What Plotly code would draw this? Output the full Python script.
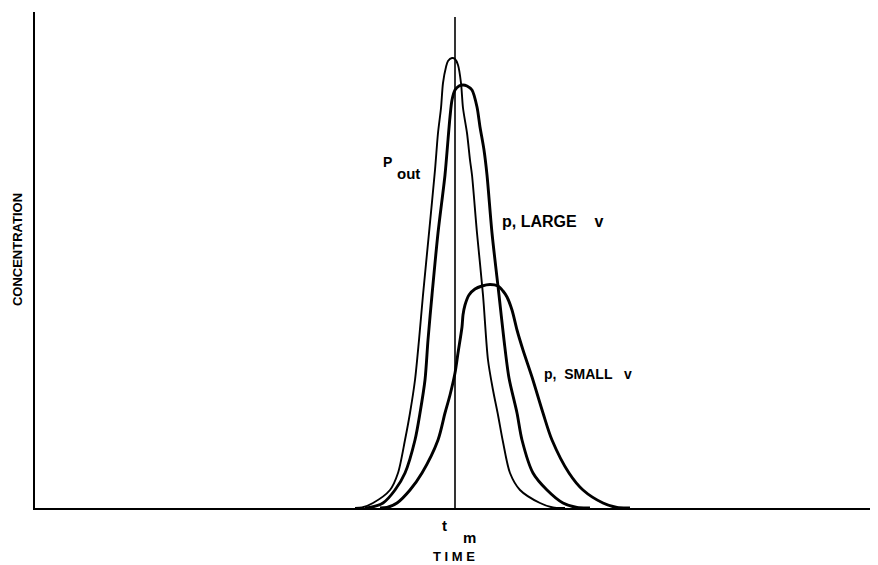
import plotly.graph_objects as go

p_out_t = [320, 327, 338, 355, 363, 370, 375, 380, 384, 388, 394, 400, 403, 406, 408, 411, 413, 417,
           420, 423, 426, 428, 432, 435, 437, 442, 448, 453, 458, 463, 468, 475, 485, 505, 518, 530]
p_out_c = [0, 0.5, 5, 18, 35, 68, 95, 128, 168, 213, 275, 338, 375, 400, 425, 441, 447, 450,
           449, 443, 425, 400, 375, 348, 333, 275, 213, 148, 118, 93, 66, 35, 18, 5, 0.5, 0]

large_t = [330, 335, 348, 360, 370, 380, 385, 390, 393, 397, 403, 410, 413, 415, 417, 420, 424, 428,
           432, 437, 442, 445, 449, 452, 457, 464, 469, 474, 482, 487, 498, 512, 528, 542, 555]
large_c = [0, 0.5, 5, 18, 35, 68, 95, 128, 168, 213, 275, 333, 368, 391, 408, 418, 422, 423,
           422, 418, 401, 381, 358, 333, 275, 213, 168, 130, 95, 68, 35, 18, 5, 0.5, 0]

small_t = [345, 352, 362, 375, 387, 403, 410, 415, 420, 423, 427, 428, 430, 434, 440, 447, 455,
           463, 468, 472, 477, 482, 488, 497, 508, 517, 534, 548, 568, 582, 595]
small_c = [0, 0.5, 5, 18, 35, 68, 95, 113, 135, 155, 181, 193, 203, 213, 219, 222, 223.5,
           222, 217, 211, 198, 178, 158, 131, 95, 68, 35, 18, 5, 0.5, 0]

t_m = 420
marker_top = 491

fig = go.Figure()
for xs, ys, w in [(p_out_t, p_out_c, 1.9), (large_t, large_c, 2.9), (small_t, small_c, 2.9)]:
    fig.add_trace(go.Scatter(x=xs, y=ys, mode="lines",
                             line=dict(color="black", width=w, shape="spline", smoothing=0.8),
                             hoverinfo="skip", showlegend=False))
fig.add_trace(go.Scatter(x=[t_m, t_m], y=[0, marker_top], mode="lines",
                         line=dict(color="black", width=1.6),
                         hoverinfo="skip", showlegend=False))

font = "Liberation Sans, Arial, sans-serif"

def ann(x, y, text, size, xref="x", yref="y", **kw):
    fig.add_annotation(x=x, y=y, xref=xref, yref=yref, text=text, showarrow=False,
                       xanchor="center", yanchor="middle",
                       font=dict(family=font, size=size, color="black", weight="bold"), **kw)

ann(352, 346, "P", 14)
ann(373, 335, "out", 15)
ann(517.5, 287, "p,&nbsp;LARGE&nbsp;&nbsp;&nbsp;&nbsp;v", 16)
ann(553, 134, "p,&nbsp;&nbsp;SMALL&nbsp;&nbsp;&nbsp;v", 14)
ann(409, -0.036, "t", 15, yref="paper")
ann(434, -0.059, "m", 15, yref="paper")
ann(418.5, -0.097, "T I M E", 13, yref="paper")
ann(-0.0214, 0.52, "CONCENTRATION", 13, xref="paper", yref="paper", textangle=-90)

fig.update_xaxes(range=[0, 840], showline=True, linecolor="black", linewidth=2,
                 showgrid=False, zeroline=False, showticklabels=False, ticks="")
fig.update_yaxes(range=[0, 496], showline=True, linecolor="black", linewidth=2,
                 showgrid=False, zeroline=False, showticklabels=False, ticks="")
fig.update_layout(width=870, height=557, margin=dict(l=27, r=3, t=4, b=57),
                  plot_bgcolor="white", paper_bgcolor="white")

fig.write_html("out.html")
